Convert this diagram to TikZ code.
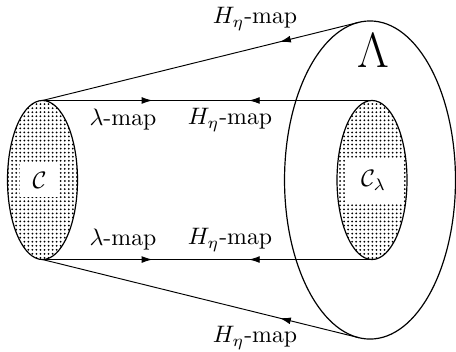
\documentclass[tikz,border=0pt]{standalone}
\usetikzlibrary{shapes.geometric,arrows.meta,decorations.markings,patterns.meta}
\begin{document}
\begin{tikzpicture}[x=0.42pt,y=-0.42pt,
  maptip/.tip={Latex[length=4.6pt,width=2.9pt]},
  dotell/.style={ellipse,draw,line width=0.5pt,inner sep=0pt,outer sep=0pt,
    minimum width=29.4pt,minimum height=66.8pt,
    pattern={Dots[distance=1.7pt,radius=0.42pt]}},
  bigell/.style={ellipse,draw,line width=0.5pt,inner sep=0pt,outer sep=0pt,
    minimum width=71.8pt,minimum height=133.6pt},
  lab/.style={fill=white,inner sep=0pt},
  twoway/.style={postaction={decorate,decoration={markings,
    mark=at position 0.334 with {\arrow{maptip}},
    mark=at position 0.626 with {\arrowreversed{maptip}}}}},
  oneway/.style={postaction={decorate,decoration={markings,
    mark=at position 0.25 with {\arrow{maptip}}}}},
  txt/.style={inner sep=1pt}
]
\useasboundingbox (0,0) rectangle (456,351);
\node[bigell] (Lam) at (370,180) {};
\node[dotell] (L) at (42.5,180) {};
\node[dotell] (R) at (372,180) {};
\node[lab,minimum width=16pt,minimum height=13.9pt] (cL) at (39.5,180) {$\mathcal{C}$};
\node[lab,minimum width=24pt,minimum height=19pt] (cR) at (373.5,180.5) {$\mathcal{C}_\lambda$};
\draw[twoway] (L.north) -- (R.north);
\draw[twoway] (L.south) -- (R.south);
\draw[oneway] (Lam.94.2) -- (L.north);
\draw[oneway] (Lam.-94.2) -- (L.south);
\node[txt] (t1) at (123,120) {$\lambda$-map};
\node[txt] (t2) at (230,120) {$H_\eta$-map};
\node[txt] (t3) at (123,240) {$\lambda$-map};
\node[txt] (t4) at (230,240) {$H_\eta$-map};
\node[txt] (t5) at (255,19) {$H_\eta$-map};
\node[txt] (t6) at (255,338) {$H_\eta$-map};
\node[txt] (lam) at (373,51) {\huge$\Lambda$};
\end{tikzpicture}
\end{document}
